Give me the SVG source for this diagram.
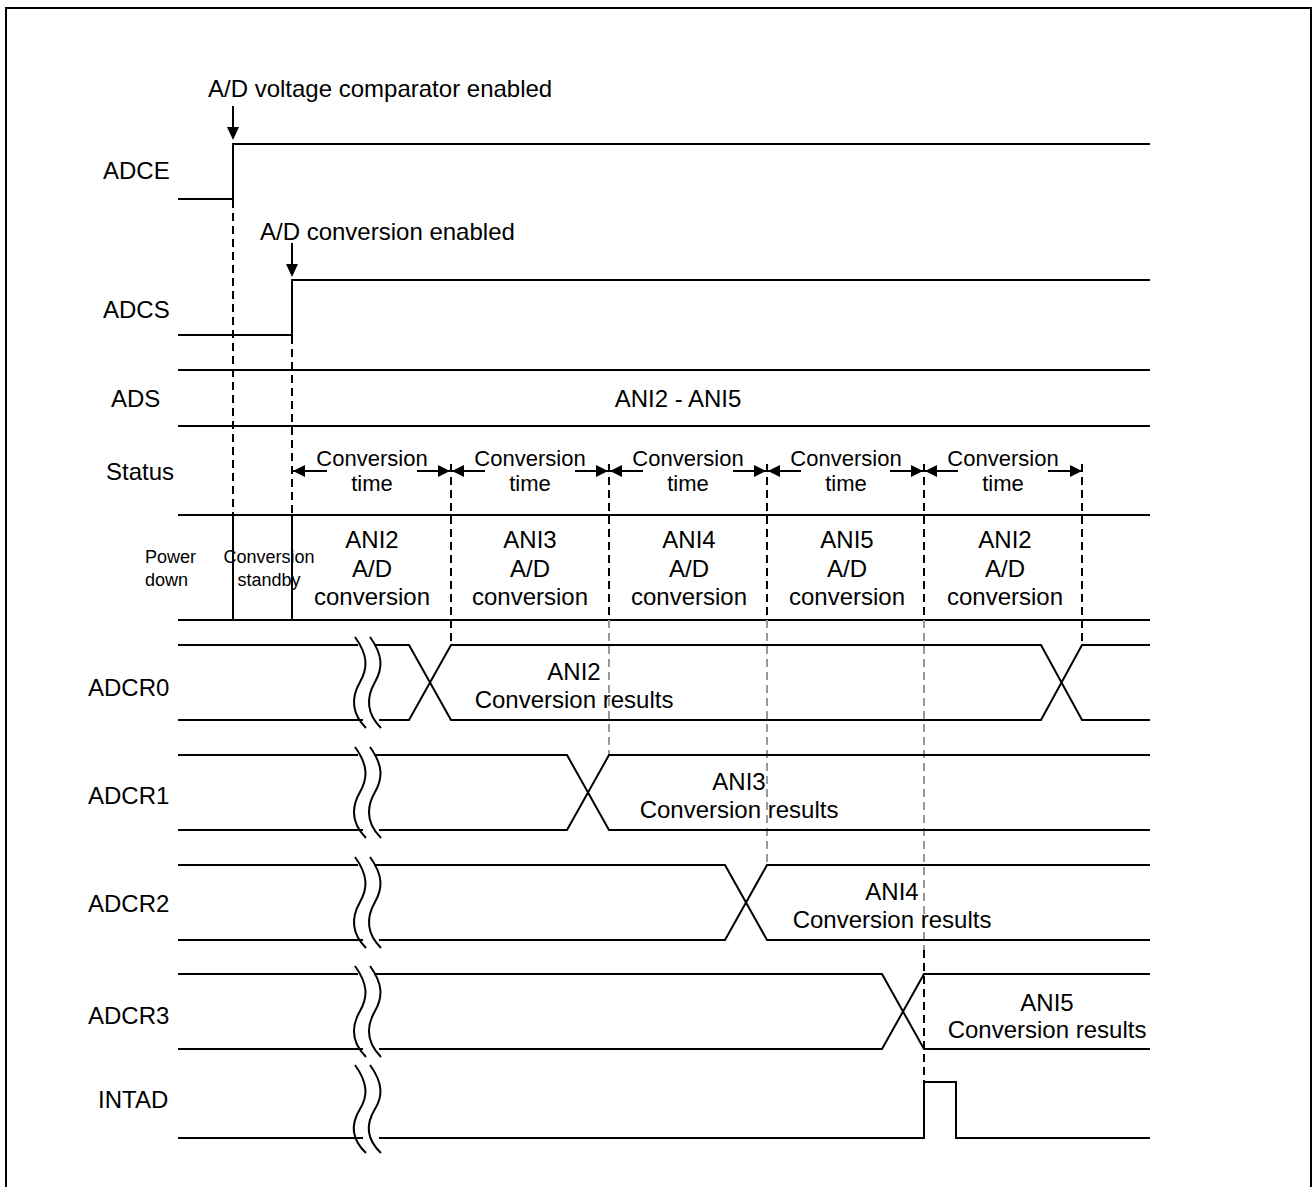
<svg xmlns="http://www.w3.org/2000/svg" width="1313" height="1187" viewBox="0 0 1313 1187">
<style>
.s{stroke:#000;stroke-width:2;fill:none}
.d{stroke:#000;stroke-width:2;fill:none;stroke-dasharray:8 5}
.g{stroke:#999;stroke-width:2;fill:none;stroke-dasharray:8 5}
.a{fill:#000;stroke:none}
text{font-family:"Liberation Sans",Arial,sans-serif;fill:#000}
.t24{font-size:24px}
.t22{font-size:22px}
.t18{font-size:18px}
.m{text-anchor:middle}
</style>
<rect width="1313" height="1187" fill="#fff"/>
<path class="s" d="M6,1187 V8 H1311 V1187" stroke-width="3"/>

<g id="labels">
<text class="t24" x="103" y="179">ADCE</text>
<text class="t24" x="103" y="318">ADCS</text>
<text class="t24" x="111" y="407">ADS</text>
<text class="t24" x="106" y="480">Status</text>
<text class="t24" x="88" y="696">ADCR0</text>
<text class="t24" x="88" y="804">ADCR1</text>
<text class="t24" x="88" y="912">ADCR2</text>
<text class="t24" x="88" y="1024">ADCR3</text>
<text class="t24" x="98" y="1108">INTAD</text>
</g>

<g id="ADCE">
<path class="s" d="M178,199 H233 V144 H1150"/>
<line class="s" x1="233" y1="106" x2="233" y2="128"/>
<polygon class="a" points="233,140 227,127 239,127"/>
<text class="t24" x="208" y="97">A/D voltage comparator enabled</text>
</g>

<g id="ADCS">
<path class="s" d="M178,335 H292 V280 H1150"/>
<line class="s" x1="292" y1="243" x2="292" y2="265"/>
<polygon class="a" points="292,277 286,264 298,264"/>
<text class="t24" x="260" y="240">A/D conversion enabled</text>
</g>

<g id="ADS">
<line class="s" x1="178" y1="370" x2="1150" y2="370"/>
<line class="s" x1="178" y1="426" x2="1150" y2="426"/>
<text class="t24 m" x="678" y="407">ANI2 - ANI5</text>
</g>

<g id="Status">
<line class="s" x1="178" y1="515" x2="1150" y2="515"/>
<line class="s" x1="178" y1="620" x2="1150" y2="620"/>
<line class="s" x1="233" y1="515" x2="233" y2="620"/>
<line class="s" x1="292" y1="515" x2="292" y2="620"/>
<text class="t18" x="145" y="563">Power</text>
<text class="t18" x="145" y="586">down</text>
<text class="t18 m" x="269" y="563">Conversion</text>
<text class="t18 m" x="269" y="586">standby</text>
<g id="seg1">
<line class="s" x1="292" y1="471" x2="327" y2="471"/><line class="s" x1="417" y1="471" x2="451" y2="471"/>
<polygon class="a" points="293,471 305,465 305,477"/><polygon class="a" points="450,471 438,465 438,477"/>
<text class="t22 m" x="372" y="466">Conversion</text><text class="t22 m" x="372" y="491">time</text>
<text class="t24 m" x="372" y="548">ANI2</text><text class="t24 m" x="372" y="577">A/D</text><text class="t24 m" x="372" y="605">conversion</text>
</g>
<g id="seg2">
<line class="s" x1="451" y1="471" x2="485" y2="471"/><line class="s" x1="575" y1="471" x2="609" y2="471"/>
<polygon class="a" points="452,471 464,465 464,477"/><polygon class="a" points="608,471 596,465 596,477"/>
<text class="t22 m" x="530" y="466">Conversion</text><text class="t22 m" x="530" y="491">time</text>
<text class="t24 m" x="530" y="548">ANI3</text><text class="t24 m" x="530" y="577">A/D</text><text class="t24 m" x="530" y="605">conversion</text>
</g>
<g id="seg3">
<line class="s" x1="609" y1="471" x2="643" y2="471"/><line class="s" x1="733" y1="471" x2="767" y2="471"/>
<polygon class="a" points="610,471 622,465 622,477"/><polygon class="a" points="766,471 754,465 754,477"/>
<text class="t22 m" x="688" y="466">Conversion</text><text class="t22 m" x="688" y="491">time</text>
<text class="t24 m" x="689" y="548">ANI4</text><text class="t24 m" x="689" y="577">A/D</text><text class="t24 m" x="689" y="605">conversion</text>
</g>
<g id="seg4">
<line class="s" x1="767" y1="471" x2="801" y2="471"/><line class="s" x1="890" y1="471" x2="924" y2="471"/>
<polygon class="a" points="768,471 780,465 780,477"/><polygon class="a" points="923,471 911,465 911,477"/>
<text class="t22 m" x="846" y="466">Conversion</text><text class="t22 m" x="846" y="491">time</text>
<text class="t24 m" x="847" y="548">ANI5</text><text class="t24 m" x="847" y="577">A/D</text><text class="t24 m" x="847" y="605">conversion</text>
</g>
<g id="seg5">
<line class="s" x1="924" y1="471" x2="958" y2="471"/><line class="s" x1="1048" y1="471" x2="1082" y2="471"/>
<polygon class="a" points="925,471 937,465 937,477"/><polygon class="a" points="1082,471 1070,465 1070,477"/>
<text class="t22 m" x="1003" y="466">Conversion</text><text class="t22 m" x="1003" y="491">time</text>
<text class="t24 m" x="1005" y="548">ANI2</text><text class="t24 m" x="1005" y="577">A/D</text><text class="t24 m" x="1005" y="605">conversion</text>
</g>
</g>

<g id="connectors">
<line class="d" x1="233" y1="200" x2="233" y2="515"/>
<line class="d" x1="292" y1="336" x2="292" y2="515"/>
<line class="d" x1="451" y1="464" x2="451" y2="645"/>
<line class="d" x1="609" y1="464" x2="609" y2="620"/>
<line class="d" x1="767" y1="464" x2="767" y2="620"/>
<line class="d" x1="924" y1="464" x2="924" y2="620"/>
<line class="d" x1="1082" y1="464" x2="1082" y2="645"/>
<line class="g" x1="609" y1="620" x2="609" y2="755"/>
<line class="g" x1="767" y1="620" x2="767" y2="865"/>
<line class="g" x1="924" y1="620" x2="924" y2="950"/>
<line class="d" x1="924" y1="950" x2="924" y2="1082"/>
</g>

<g id="ADCR0">
<path class="s" d="M178,645 H358 M374,645 H409 L451,720 H1041 L1082,645 H1150 M178,720 H363 M379,720 H409 L451,645 H1041 L1082,720 H1150"/>
<path class="s" d="M355,637 C368,655 368,668 360,682 S350,712 366,728 M370,637 C383,655 383,668 375,682 S365,712 381,728"/>
<text class="t24 m" x="574" y="680">ANI2</text><text class="t24 m" x="574" y="708">Conversion results</text>
</g>

<g id="ADCR1">
<path class="s" d="M178,755 H358 M374,755 H567 L609,830 H1150 M178,830 H363 M379,830 H567 L609,755 H1150"/>
<path class="s" d="M355,747 C368,765 368,778 360,792 S350,822 366,838 M370,747 C383,765 383,778 375,792 S365,822 381,838"/>
<text class="t24 m" x="739" y="790">ANI3</text><text class="t24 m" x="739" y="818">Conversion results</text>
</g>

<g id="ADCR2">
<path class="s" d="M178,865 H358 M374,865 H725 L767,940 H1150 M178,940 H363 M379,940 H725 L767,865 H1150"/>
<path class="s" d="M355,857 C368,875 368,888 360,902 S350,932 366,948 M370,857 C383,875 383,888 375,902 S365,932 381,948"/>
<text class="t24 m" x="892" y="900">ANI4</text><text class="t24 m" x="892" y="928">Conversion results</text>
</g>

<g id="ADCR3">
<path class="s" d="M178,974 H358 M374,974 H882 L924,1049 H1150 M178,1049 H363 M379,1049 H882 L924,974 H1150"/>
<path class="s" d="M355,966 C368,984 368,997 360,1011 S350,1041 366,1057 M370,966 C383,984 383,997 375,1011 S365,1041 381,1057"/>
<text class="t24 m" x="1047" y="1011">ANI5</text><text class="t24 m" x="1047" y="1038">Conversion results</text>
</g>

<g id="INTAD">
<path class="s" d="M178,1138 H363 M379,1138 H924 V1082 H956 V1138 H1150"/>
<path class="s" d="M355,1065 C368,1083 368,1096 360,1109 S350,1138 366,1153 M370,1065 C383,1083 383,1096 375,1109 S365,1138 381,1153"/>
</g>
</svg>
